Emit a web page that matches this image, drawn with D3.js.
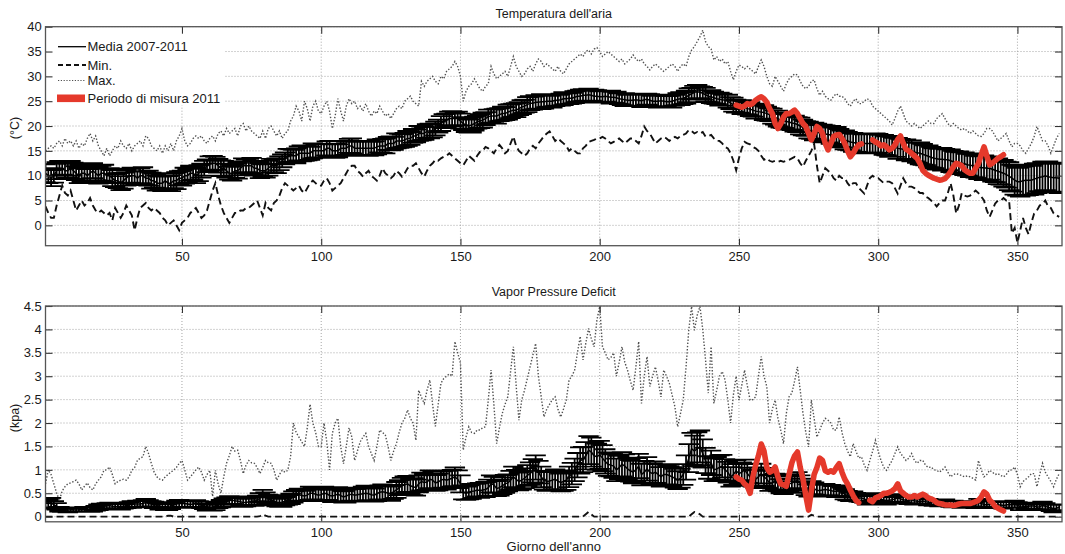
<!DOCTYPE html>
<html>
<head>
<meta charset="utf-8">
<script src="https://cdn.jsdelivr.net/npm/d3@7"></script>
<style>
  body { margin: 0; background: #fff; }
  svg { display: block; }
  text { font-family: "Liberation Sans", Arial, Helvetica, sans-serif; fill: #1a1a1a; }
</style>
</head>
<body>
<svg id="chart" width="1065" height="554"></svg>
<script>
// ---- Daily climatology 2007-2011, day 1..365 ----
// Air temperature (°C)
const tempMean = [
  10.5,10,9.5,10,11,11.5,11.5,11,11,11.5,
  11,10.5,10,10.5,10.5,10,10.5,11,10.5,10,
  10.5,10.5,10,10,9.5,9,9,8.5,9,9.5,
  10,10,10,9.5,10,10,9.5,9.5,9,9,
  8.5,8.5,8.5,9,8.5,8.5,9,9,9.5,9.5,
  10,10,10.5,10.5,10,10.5,11,11.5,12,12.5,
  12.5,12.5,12,11.5,11.5,11,10.5,10.5,11,11,
  11.5,12,12,12,12,11.5,11.5,11,11,11,
  11.5,12,12,12,12.5,13,13.5,14,14,14,
  14,14.5,14.5,14.5,14.5,14.5,15,15,15,15,
  15,15.5,15.5,15,15,15,15.5,15.5,15.5,16,
  16,15.5,15.5,15.5,15.5,15.5,15.5,15.5,15.5,15.8,
  16,16,16,16.5,16.5,16.5,17,17,17,17.2,
  17.5,17.5,18,18,18.5,18.5,18.5,19,19,19,
  19.5,20,20.5,21,21.2,21.5,21.5,21.5,21.5,21,
  20.5,20.2,20,20.2,20.5,20.8,21,21.2,21.5,21.9,
  22,22,22,22.3,22.5,22.5,22.8,23,23.2,23.2,
  23.5,23.8,24,24.3,24.6,24.6,24.8,24.8,24.9,24.9,
  25,25,25,25.2,25.2,25.3,25.5,25.5,25.6,25.6,
  25.8,26,26,26.2,26.2,26.3,26.2,26,26,25.9,
  25.9,26,25.9,25.8,25.8,25.7,25.5,25.4,25.3,25.2,
  25.2,25.2,25.3,25.2,25.1,25.3,25.4,25.2,25,25,
  25,25.1,25,24.9,24.9,25,25.2,25.4,25.5,25.6,
  25.8,26.2,26.5,26.8,26.9,26.8,26.6,26.3,26,25.9,
  25.7,25.5,25.4,25.3,25.2,25,24.6,24.3,24,23.9,
  23.8,23.7,23.5,23.4,23.2,23,22.9,22.8,22.7,22.5,
  22.3,22,21.7,21.5,21.2,21,20.9,20.8,20.6,20.5,
  20.3,20,19.7,19.5,19.2,19,18.9,18.8,18.6,18.5,
  18.4,18.3,18.2,18,17.9,17.6,17.4,17.2,17,16.8,
  16.7,16.6,16.5,16.5,16.5,16.5,16.5,16.5,16.5,16.5,
  16.4,16.2,16,15.9,15.8,15.7,15.5,15.4,15.3,15.2,
  15.1,15,14.8,14.6,14.5,14.3,14.1,13.9,13.7,13.5,
  13.4,13.3,13.3,13.2,13.2,13,12.8,12.7,12.6,12.5,
  12.4,12.2,12.1,12,11.8,11.7,11.6,11.6,11.5,11.5,
  11.3,11.1,10.9,10.7,10.5,10.2,9.9,9.5,9.1,8.8,
  8.8,9,9.1,9.1,9.1,9.3,9.5,9.7,9.8,10,
  9.8,9.7,9.6,9.6,9.5
];
const tempErr = [
  1.8,1.5,1.6,1.4,1.7,1.5,1.3,1.6,1.4,1.5,
  1.6,1.4,1.5,1.7,1.5,1.3,1.6,1.5,1.4,1.6,
  1.5,1.7,1.4,1.5,1.6,1.3,1.5,1.4,1.6,1.5,
  1.4,1.6,1.5,1.3,1.5,1.7,1.4,1.5,1.6,1.4,
  1.5,1.3,1.6,1.5,1.4,1.6,1.5,1.7,1.4,1.5,
  1.6,1.4,1.5,1.3,1.5,1.6,1.4,1.5,1.3,1.4,
  1.5,1.3,1.4,1.6,1.5,1.4,1.3,1.5,1.4,1.6,
  1.4,1.5,1.3,1.4,1.6,1.5,1.4,1.5,1.3,1.4,
  1.5,1.4,1.3,1.5,1.4,1.3,1.2,1.4,1.3,1.2,
  1.5,1.4,1.6,1.5,1.4,1.3,1.5,1.4,1.3,1.4,
  1.3,1.4,1.5,1.3,1.4,1.3,1.5,1.4,1.3,1.4,
  1.5,1.3,1.4,1.5,1.3,1.4,1.5,1.3,1.4,1.5,
  1.3,1.4,1.5,1.3,1.4,1.3,1.5,1.4,1.3,1.4,
  1.5,1.3,1.4,1.3,1.5,1.4,1.3,1.4,1.5,1.3,
  1.4,1.3,1.5,1.4,1.3,1.4,1.5,1.3,1.4,1.5,
  1.3,1.4,1.3,1.5,1.4,1.3,1.4,1.5,1.3,1.4,
  1.3,1.4,1.5,1.3,1.4,1.3,1.5,1.4,1.3,1.4,
  1.3,1.4,1.3,1.5,1.4,1.3,1.4,1.3,1.5,1.4,
  1.2,1.1,1.3,1.2,1.1,1.2,1.3,1.1,1.2,1.1,
  1.2,1.1,1.3,1.2,1.1,1.2,1.1,1.3,1.2,1.1,
  1.2,1.1,1.2,1.3,1.1,1.2,1.1,1.2,1.3,1.1,
  1.2,1.1,1.2,1.1,1.3,1.2,1.1,1.2,1.1,1.2,
  1.3,1.1,1.2,1.1,1.2,1.3,1.1,1.2,1.3,1.2,
  1.3,1.4,1.2,1.3,1.4,1.2,1.3,1.4,1.2,1.3,
  1.2,1.1,1.3,1.2,1.1,1.3,1.2,1.4,1.3,1.2,
  1.4,1.3,1.2,1.4,1.3,1.5,1.4,1.3,1.5,1.4,
  1.3,1.5,1.4,1.6,1.5,1.4,1.6,1.5,1.4,1.6,
  1.5,1.7,1.6,1.5,1.7,1.6,1.8,1.7,1.6,1.8,
  1.7,1.6,1.8,1.7,1.9,1.8,1.7,1.9,1.8,1.7,
  1.9,1.8,2,1.9,1.8,2,1.9,1.8,2,1.9,
  1.8,2,1.9,2.1,2,1.9,2.1,2,1.9,2.1,
  2,2.1,1.9,2,2.2,2.1,2,2.2,2.1,2,
  2.2,2.1,2.3,2.2,2.1,2.3,2.2,2.1,2.3,2.2,
  2.3,2.2,2.4,2.3,2.2,2.4,2.3,2.5,2.4,2.3,
  2.5,2.4,2.6,2.5,2.7,2.6,2.8,2.7,2.9,2.8,
  3,2.9,3.1,3,2.9,3.1,3,2.8,3,2.9,
  3.1,2.9,3,2.8,3
];
const tempMin = [
  3.8,2.5,1.5,1.5,4,6,8,6.5,6,7,
  5,3,4,5,4,4.5,5.5,4,3,2.5,
  3,2.5,2,2.5,1,3.5,2.5,1.5,2.5,4,
  3,2,-1,1.5,3.5,4,4.5,3.5,3,3.5,
  3,2.5,1.5,1,0,0.5,1,0,-1,0.5,
  1,1.5,2.5,3,3.5,2.5,1.5,2,3,5,
  7,8.5,6,4,2.5,1.5,0.5,1.5,2.5,2.5,
  3,3,3.5,3.5,4,4.5,5,3.5,2,4.5,
  3.5,3,4.5,5,6,7.5,8.5,8,7.5,7,
  7.5,8,7,6.5,7.5,8.5,9,8.5,8,8,
  9,9.5,8.5,7,7.5,8,8.5,9.5,10.5,11.5,
  12,12,11,10.5,9.8,10.5,11,10,9.5,9,
  10,11.5,10.5,10,9.5,10,11,10.5,9.8,10.5,
  11.5,12,12,12.5,11.5,10.5,9.8,11,12,12.5,
  13.2,13,13.5,13.8,14,14.5,14,13.5,13,12.5,
  12.1,13,14,13.5,13,14,14.8,15,15.8,15.5,
  15,14.5,15.5,16.2,15.5,14.5,15,16.5,17.9,16,
  15,14.5,14,14.5,15.5,16,15.5,16.5,17.2,18,
  18.5,18.9,18,17,17.5,17,16.5,16,15,15.5,
  15,14.5,14.5,15.5,16,16.8,17,17.2,17.5,17.5,
  17.8,17.5,17,16.5,16.8,17.2,17.5,17,16.5,17,
  17.5,17.5,17,16.5,18,19.9,19,18.5,17.5,16.5,
  17,17.5,17.8,17.5,17,17.5,17.8,17.5,18,18.2,
  18.5,19.2,19,18.5,18.8,18.5,18.8,17.9,18,18.2,
  17.5,17,17,16.5,15.8,15.5,14.5,13,11.1,13.5,
  15.5,16.8,16.5,16.3,15.8,15.5,15,14,13.2,13.5,
  13,12.8,13,12.8,13,12.8,13,13.2,13.5,13.8,
  13.5,12.5,11.8,13,14,15,16.4,12,8.5,10,
  11.5,11,10.5,9.5,9,10,9.5,9.5,8.5,7.8,
  8.5,8.5,7.5,7,6.4,8,9.5,10,9.5,9.5,
  9,8.5,8.8,8.8,8.5,7.5,6.4,8,9.5,8.5,
  7.8,7.8,7.5,7,6.5,6.5,5.8,5.5,5,4.5,
  3.8,4.5,5,5,6.5,8.5,6,2.4,4,6.5,
  6,5.8,6,6.5,7,6.5,5.8,5,3,1.7,
  3,4.4,5,5,5.5,5,5,-1.6,-0.5,-3.5,
  -1,1.5,-0.5,-1.8,0.5,2.4,3,4,4.4,5,
  3.8,3.5,2.4,2,1.7
];
const tempMax = [
  15,15.5,16,15.5,16.5,17,16,17.5,16.5,17,
  16,17,15.5,16.5,16,17.5,18.5,17,18,16,
  15,14,15.5,14,15,16,15.5,17,16,15.5,
  16.5,15,16,16.5,17,16,18,17.5,16,15.5,
  15,16,14.5,16,15,16.5,15,17,18,19.5,
  17,16,16.5,17.5,18,17.5,18,17,16.5,17.5,
  18,17,18.5,19,18,19.5,18.5,19,19.5,18,
  20,20.5,19,20,19,18.5,18,17.5,19,17.5,
  19.5,20,19,18,19,17.5,18.5,19,21,22,
  24,23,21,25,23.5,21,24,25,23,22.5,
  24,25,23,19.5,22,25.5,23,21,24,25.5,
  24.5,25,23.5,24,23,24.5,23,22,23,22.5,
  24,23,22,22.5,21.5,22.5,23.5,24,23.5,25,
  25.5,26,25,24.5,24,29,28,29,29.5,30,
  29,28.5,30,29.5,31,31.5,32,33,32,30,
  25,27,28,28.5,29.5,28.5,27.5,27,28,28.5,
  32,30.5,29.5,30,30.5,31,30,32,34,32,
  31,30,30.5,31.5,32,31,32.5,33.5,33,32,
  32.5,32,31.5,31,32,31,30.5,31.5,32.5,33,
  33.5,34,34.5,34,35,35.3,34.5,35.5,35.8,35,
  34,34.5,35,34.5,34,33.5,33,33.5,32.5,33,
  33.5,34.3,33.5,33,33.5,32.5,32,31.3,32,32.5,
  32,31.5,31,31.5,32,32.5,32,31,32,32.5,
  32,34,35.3,36,37,38,39.3,37,36,35.5,
  33.3,34,33,33.5,32.5,33,31,29.3,31,32.3,
  32,31.5,32,31.5,31,30.5,32,33.3,32,30,
  28.5,28,30,29,28,27,28.5,29.5,30,30.5,
  30.3,29,28,27.5,28,29,29.3,27.5,26.2,27,
  26,25.5,25.2,26,26.5,26,26,25.5,24.5,24,
  25,25.5,24.5,24.5,25,25.5,25.2,24,23.5,23,
  22.5,22,21.5,21,20.2,21.5,23,24,22.5,21,
  20.5,20,20.5,20,19.5,20,20.5,21,20.5,20.5,
  21.5,22,22.5,21.5,20.5,20,20.5,20,19.5,19.2,
  19.5,19,18.5,19,18.5,18,17.9,18.5,19.5,19.5,
  19,18,17,17.5,18,18.5,17,15.8,16.5,16.5,
  16,15,14.5,15.5,16.5,17.9,19.9,18.5,17,17,
  16,14.5,16,17.5,18.5
];

// Vapour pressure deficit (kPa)
const vpdMean = [
  0.3,0.28,0.3,0.25,0.22,0.16,0.15,0.15,0.14,0.15,
  0.15,0.14,0.15,0.15,0.16,0.15,0.15,0.16,0.18,0.2,
  0.22,0.22,0.23,0.24,0.22,0.21,0.22,0.21,0.22,0.24,
  0.25,0.26,0.27,0.27,0.27,0.28,0.3,0.28,0.27,0.25,
  0.25,0.22,0.21,0.21,0.22,0.23,0.25,0.27,0.28,0.28,
  0.28,0.27,0.26,0.27,0.28,0.27,0.25,0.22,0.2,0.19,
  0.2,0.22,0.25,0.28,0.3,0.33,0.35,0.35,0.34,0.33,
  0.32,0.3,0.3,0.32,0.33,0.32,0.35,0.4,0.45,0.42,
  0.38,0.35,0.33,0.3,0.3,0.31,0.33,0.36,0.38,0.42,
  0.45,0.47,0.45,0.44,0.46,0.5,0.5,0.48,0.46,0.47,
  0.5,0.49,0.45,0.44,0.46,0.48,0.45,0.42,0.44,0.47,
  0.48,0.46,0.47,0.48,0.49,0.5,0.49,0.47,0.46,0.49,
  0.52,0.53,0.52,0.5,0.5,0.53,0.57,0.62,0.66,0.68,
  0.7,0.66,0.64,0.62,0.7,0.75,0.73,0.74,0.8,0.78,
  0.72,0.74,0.78,0.8,0.78,0.8,0.82,0.85,0.8,0.7,
  0.52,0.5,0.52,0.54,0.55,0.57,0.56,0.57,0.58,0.62,
  0.7,0.68,0.6,0.62,0.66,0.7,0.72,0.78,0.85,0.8,
  0.75,0.78,0.82,0.88,0.92,0.98,1.05,0.95,0.85,0.78,
  0.75,0.76,0.78,0.8,0.76,0.73,0.75,0.78,0.85,0.92,
  1,1.1,1.2,1.22,1.3,1.42,1.38,1.3,1.28,1.32,
  1.25,1.18,1.12,1.1,1.08,1,1.05,1.12,1.08,1.02,
  0.98,0.95,1,1.08,0.9,0.95,1.02,0.95,0.92,0.95,
  0.9,0.85,0.9,0.9,0.88,0.85,0.82,0.78,0.82,0.9,
  1.05,1.25,1.45,1.4,1.45,1.5,1.35,1.2,1.05,1.15,
  1,1.02,1.05,1.08,1,0.95,0.85,0.9,0.98,0.92,
  0.95,1,0.92,0.85,0.82,0.8,0.85,0.92,0.85,0.8,
  0.72,0.72,0.75,0.7,0.65,0.62,0.66,0.7,0.72,0.75,
  0.78,0.72,0.66,0.6,0.56,0.62,0.6,0.56,0.56,0.57,
  0.58,0.57,0.56,0.54,0.54,0.56,0.52,0.48,0.45,0.42,
  0.44,0.42,0.4,0.4,0.38,0.35,0.37,0.4,0.42,0.4,
  0.37,0.35,0.34,0.35,0.36,0.38,0.4,0.38,0.36,0.35,
  0.35,0.36,0.34,0.33,0.33,0.33,0.32,0.31,0.31,0.3,
  0.3,0.29,0.29,0.3,0.28,0.27,0.27,0.27,0.27,0.26,
  0.26,0.26,0.25,0.25,0.25,0.3,0.28,0.26,0.26,0.27,
  0.26,0.25,0.25,0.25,0.24,0.25,0.26,0.26,0.27,0.25,
  0.2,0.21,0.22,0.22,0.23,0.23,0.2,0.21,0.24,0.22,
  0.2,0.19,0.17,0.18,0.2
];
const vpdErr = [
  0.1,0.09,0.1,0.08,0.07,0.05,0.05,0.04,0.05,0.04,
  0.05,0.04,0.05,0.04,0.05,0.04,0.05,0.05,0.05,0.06,
  0.06,0.05,0.06,0.06,0.05,0.06,0.05,0.06,0.05,0.06,
  0.06,0.07,0.06,0.07,0.06,0.07,0.08,0.07,0.06,0.07,
  0.06,0.07,0.06,0.07,0.08,0.07,0.06,0.07,0.08,0.07,
  0.07,0.06,0.07,0.08,0.07,0.06,0.07,0.06,0.07,0.06,
  0.07,0.08,0.07,0.08,0.09,0.08,0.09,0.08,0.09,0.08,
  0.08,0.09,0.08,0.09,0.1,0.09,0.1,0.1,0.12,0.1,
  0.09,0.1,0.09,0.08,0.09,0.1,0.09,0.1,0.11,0.12,
  0.12,0.13,0.12,0.11,0.12,0.14,0.13,0.12,0.13,0.14,
  0.14,0.13,0.12,0.13,0.14,0.15,0.13,0.12,0.14,0.15,
  0.14,0.13,0.15,0.14,0.15,0.16,0.14,0.15,0.14,0.16,
  0.15,0.16,0.15,0.14,0.16,0.15,0.17,0.16,0.17,0.18,
  0.17,0.16,0.18,0.17,0.18,0.19,0.18,0.17,0.19,0.18,
  0.17,0.18,0.19,0.18,0.2,0.19,0.18,0.2,0.19,0.18,
  0.15,0.14,0.15,0.16,0.15,0.14,0.16,0.15,0.16,0.17,
  0.18,0.17,0.16,0.17,0.18,0.19,0.18,0.2,0.22,0.2,
  0.19,0.2,0.21,0.22,0.24,0.25,0.26,0.24,0.22,0.2,
  0.2,0.19,0.2,0.21,0.2,0.19,0.2,0.21,0.22,0.23,
  0.24,0.26,0.28,0.27,0.29,0.3,0.31,0.29,0.28,0.3,
  0.28,0.26,0.25,0.24,0.25,0.24,0.25,0.26,0.25,0.24,
  0.23,0.24,0.25,0.26,0.23,0.24,0.25,0.23,0.22,0.23,
  0.22,0.21,0.22,0.21,0.2,0.21,0.2,0.19,0.2,0.22,
  0.26,0.3,0.34,0.33,0.35,0.34,0.3,0.27,0.24,0.26,
  0.24,0.25,0.26,0.24,0.23,0.22,0.21,0.22,0.23,0.22,
  0.21,0.22,0.2,0.19,0.18,0.19,0.2,0.21,0.19,0.18,
  0.17,0.16,0.17,0.16,0.15,0.14,0.15,0.16,0.17,0.16,
  0.17,0.16,0.15,0.14,0.13,0.14,0.13,0.12,0.13,0.12,
  0.12,0.11,0.12,0.11,0.12,0.11,0.1,0.11,0.1,0.09,
  0.1,0.09,0.08,0.09,0.08,0.09,0.08,0.09,0.08,0.09,
  0.08,0.09,0.08,0.07,0.08,0.09,0.08,0.07,0.08,0.07,
  0.08,0.07,0.08,0.07,0.06,0.07,0.06,0.07,0.06,0.07,
  0.06,0.07,0.06,0.07,0.06,0.06,0.07,0.06,0.06,0.07,
  0.06,0.07,0.06,0.06,0.07,0.08,0.07,0.06,0.07,0.06,
  0.06,0.07,0.06,0.06,0.07,0.06,0.07,0.06,0.07,0.06,
  0.06,0.07,0.06,0.07,0.06,0.07,0.06,0.07,0.08,0.07,
  0.06,0.07,0.08,0.07,0.06
];
const vpdMin = [
  0,0,0,0,0,0,0,0,0,0,
  0,0,0,0,0,0,0,0,0,0,
  0,0,0,0,0,0,0,0,0,0,
  0,0,0,0,0,0,0,0,0,0,
  0,0,0,0,0.02,0.02,0,0,0,0,
  0,0,0,0,0,0,0,0,0,0,
  0,0,0,0,0,0,0,0,0,0,
  0,0,0,0,0,0,0,0.01,0.05,0.02,
  0,0,0,0,0,0,0,0,0,0,
  0,0,0,0,0,0,0,0,0,0,
  0,0,0,0,0,0,0,0,0,0,
  0,0,0,0,0,0,0,0,0,0,
  0,0,0,0,0,0,0,0,0,0,
  0,0,0,0,0,0,0,0,0,0,
  0,0,0,0,0,0,0,0,0,0,
  0,0,0,0,0,0,0,0,0,0,
  0,0,0,0,0,0,0,0,0,0,
  0,0,0,0,0,0,0,0,0,0,
  0,0,0,0,0,0,0,0,0,0,
  0,0,0,0,0.05,0.1,0.05,0,0,0,
  0,0,0,0,0,0,0,0,0,0,
  0,0,0,0,0,0,0,0,0,0,
  0,0,0,0,0,0,0,0,0,0,
  0,0,0.05,0.1,0.08,0.05,0,0,0,0,
  0,0,0,0,0,0,0,0,0,0,
  0,0,0,0,0,0,0,0,0,0,
  0,0,0,0,0,0,0,0,0,0,
  0,0,0,0,0,0.04,0.02,0,0,0,
  0,0,0,0,0,0,0,0,0,0,
  0,0,0,0,0,0,0,0,0,0,
  0,0,0,0,0,0,0,0,0,0,
  0,0,0,0,0,0,0,0,0,0,
  0,0,0,0,0,0,0,0,0,0,
  0,0,0,0,0,0,0,0,0,0,
  0,0,0,0,0,0,0,0,0,0,
  0,0,0,0,0,0,0,0,0,0,
  0,0,0,0,0
];
const vpdMax = [
  0.7,1,0.9,0.7,0.5,0.35,0.55,0.64,0.7,0.72,
  0.75,0.78,0.7,0.57,0.65,0.72,0.62,0.57,0.7,0.78,
  0.85,0.99,1,1.06,0.9,0.7,0.75,0.78,0.8,0.78,
  0.85,0.99,1.05,1.2,1.25,1.28,1.5,1.35,1.14,0.95,
  0.85,0.8,0.78,0.85,0.9,0.95,0.99,1.05,1.14,1.2,
  1,0.78,0.85,0.92,1,1.06,0.95,0.78,0.9,0.99,
  0.43,0.99,0.7,0.5,0.85,1.14,1.3,1.5,1.4,1.42,
  1.2,0.92,1.1,1.2,1.15,1.14,1.05,0.92,1.05,1.2,
  1.15,1.14,1,0.78,0.9,0.99,0.95,0.99,1.28,2,
  1.8,1.7,1.6,1.5,1.9,2.4,2,1.8,1.5,1.5,
  2,1.6,1,1.78,2,2.1,1.5,1.13,1.5,1.9,
  1.7,1.2,1.4,1.6,1.7,1.78,1.5,1.35,1.2,1.5,
  1.85,1.8,1.75,1.5,1.2,1.4,1.56,1.8,2,2.1,
  2.28,2.1,2,1.63,2.7,2.55,2.42,2.7,2.92,2.4,
  1.93,2.4,2.85,2.95,3,3.05,3,3.74,3.5,3.28,
  1.42,1.7,1.92,1.8,1.78,1.85,1.85,1.9,1.92,2.5,
  3.13,2.4,1.56,1.9,2.2,2.4,2.56,3.1,3.63,2.8,
  2.06,2.49,2.7,2.95,3.2,3.45,3.7,3,2.56,2.13,
  2.3,2.4,2.5,2.56,2.3,2.13,2.3,2.49,2.92,3,
  3.13,3.5,3.85,3.35,3.7,4.02,3.8,3.63,4.2,4.49,
  3.63,3.5,3.35,3.4,3.5,3,3.3,3.63,3.3,3.13,
  2.9,2.7,3.2,3.74,2.42,3,3.42,2.78,3,3.2,
  2.9,2.56,3.13,3,2.85,2.6,2.35,1.92,2.2,2.49,
  3.2,4,4.49,3.98,4.3,4.49,4,3.35,2.64,3.63,
  2.42,2.7,3,3.1,2.92,2.5,2,2.6,3,2.49,
  2.8,3.13,2.8,2.49,2.5,2.56,3,3.42,3,2.78,
  2,2.3,2.49,2.1,1.85,1.56,2.2,2.56,2.64,2.9,
  3.2,2.7,2.2,1.8,1.49,2.49,2.1,1.7,1.85,2,
  2.1,2.06,2,1.85,1.85,2.13,1.8,1.56,1.4,1.28,
  1.56,1.4,1.25,1.28,1.1,0.99,1.2,1.4,1.63,1.4,
  1.2,1.05,0.99,1.1,1.2,1.35,1.49,1.35,1.28,1.2,
  1.25,1.35,1.2,1.14,1.2,1.2,1.1,1.05,1.06,1,
  0.99,0.95,1,1.06,0.95,0.85,0.9,0.92,0.9,0.88,
  0.85,0.87,0.85,0.82,0.78,1.2,1,0.85,0.9,0.99,
  0.95,0.9,0.92,0.88,0.85,0.9,0.99,1,1.06,0.9,
  0.64,0.75,0.8,0.85,0.92,0.92,0.64,0.9,1.14,0.95,
  0.85,0.75,0.64,0.8,0.92
];

// ---- 2011 measurement period, days 249..345 (null = no data) ----
const periodStart = 249;
const periodTemp = [
  24.2,24,23.8,24,24.5,24.3,24.6,25.2,25.6,25.9,
  25.5,24.8,23.5,22.5,20.5,19.5,20.5,21.8,22.5,22.5,
  22.8,23.2,22.5,21.5,20.5,19.9,18.5,17.2,18.5,19.9,
  19.5,18.5,16.5,15.2,16.5,17.9,18.2,18.3,17.5,16.5,
  15,13.8,14.5,15.5,16.2,16.4,null,null,null,17.2,
  16.8,16.5,16,16.2,15.8,15.2,15.5,16.2,17.3,18,
  16.5,15.3,15,14.5,14,13.5,12.5,11.1,10.5,10.1,
  9.8,9.5,9.3,9.1,9.2,9.4,10,10.8,11.8,12.5,
  12.3,12,11.2,10.8,10.5,10.5,11.5,12.5,14.2,15.8,
  14,12.2,12.5,13,13.5,13.8,14.2
];
const periodVpd = [
  0.85,0.8,0.78,0.7,0.65,0.5,0.85,1.1,1.3,1.55,
  1.4,1.05,0.95,0.98,1.06,0.85,0.7,0.68,0.65,0.9,
  1.15,1.3,1.38,1.05,0.8,0.45,0.14,0.55,0.9,1.05,
  1.25,1.2,0.98,0.95,0.98,0.95,1.05,1.13,0.95,0.8,
  0.7,0.57,0.45,0.35,0.3,null,null,null,0.35,0.32,
  0.4,0.42,0.45,0.5,0.5,0.52,0.55,0.6,0.7,0.55,
  0.5,0.45,0.42,0.42,0.45,0.42,0.45,0.48,0.45,0.4,
  0.38,0.35,0.3,0.28,0.27,0.25,0.25,0.25,0.24,0.25,
  0.27,0.28,0.28,0.28,0.28,0.3,0.32,0.35,0.42,0.53,
  0.48,0.35,0.3,0.22,0.18,0.15,0.12
];

// ---- Axis ticks and labels ----
const dayTicks = [50, 100, 150, 200, 250, 300, 350];
const tempTicks = [0, 5, 10, 15, 20, 25, 30, 35, 40];
const vpdTicks = [0, 0.5, 1, 1.5, 2, 2.5, 3, 3.5, 4, 4.5];
const legendLabels = ["Media 2007-2011", "Min.", "Max.", "Periodo di misura 2011"];

// ---- Drawing ----
const svg = d3.select("#chart");
svg.append("rect").attr("width", 1065).attr("height", 554).attr("fill", "#fff");

const x = d3.scaleLinear().domain([1, 366]).range([45.5, 1062]);
const CAP = 3.65;           // half width of error-bar caps, in days
const RED = "#e5392b";
const MAX_STYLE = { stroke: "#505050", width: 1.4, dash: "1.4,1.8" };
const MIN_STYLE = { stroke: "#111", width: 1.9, dash: "7,4" };

function drawPanel(o) {
  const y = d3.scaleLinear().domain(o.domain).range([o.bottom, o.top]);
  const x0 = x.range()[0], x1 = x.range()[1];
  const g = svg.append("g");

  svg.append("clipPath").attr("id", "clip-" + o.key)
    .append("rect").attr("x", x0).attr("y", o.top)
    .attr("width", x1 - x0).attr("height", o.bottom - o.top);

  // dotted grid
  const grid = g.append("g").attr("stroke", "#9c9c9c").attr("stroke-width", 0.9)
    .attr("stroke-dasharray", "1,2");
  grid.selectAll("line.gx").data(dayTicks).join("line").attr("class", "gx")
    .attr("x1", d => x(d)).attr("x2", d => x(d)).attr("y1", o.top).attr("y2", o.bottom);
  grid.selectAll("line.gy").data(o.ticks).join("line").attr("class", "gy")
    .attr("x1", x0).attr("x2", x1).attr("y1", d => y(d)).attr("y2", d => y(d));

  const plot = g.append("g").attr("clip-path", `url(#clip-${o.key})`);
  const line = d3.line().x((d, i) => x(i + 1)).y(d => y(d));

  // maximum: dotted
  plot.append("path").attr("d", line(o.max)).attr("fill", "none")
    .attr("stroke", MAX_STYLE.stroke).attr("stroke-width", MAX_STYLE.width)
    .attr("stroke-dasharray", MAX_STYLE.dash);
  // minimum: dashed
  plot.append("path").attr("d", line(o.min)).attr("fill", "none")
    .attr("stroke", MIN_STYLE.stroke).attr("stroke-width", MIN_STYLE.width)
    .attr("stroke-dasharray", MIN_STYLE.dash);

  // mean with error bars
  const p = d3.path();
  o.mean.forEach((m, i) => {
    const d = i + 1, e = o.err[i];
    const yl = y(m - e), yh = y(m + e);
    p.moveTo(x(d), yl); p.lineTo(x(d), yh);
    p.moveTo(x(d - CAP), yl); p.lineTo(x(d + CAP), yl);
    p.moveTo(x(d - CAP), yh); p.lineTo(x(d + CAP), yh);
  });
  plot.append("path").attr("d", p.toString()).attr("fill", "none")
    .attr("stroke", "#000").attr("stroke-width", 1.8);
  plot.append("path").attr("d", line(o.mean)).attr("fill", "none")
    .attr("stroke", "#000").attr("stroke-width", 1.5);

  // 2011 measurement period
  const redLine = d3.line().defined(d => d != null)
    .x((d, i) => x(periodStart + i)).y(d => y(d));
  plot.append("path").attr("d", redLine(o.period)).attr("fill", "none")
    .attr("stroke", RED).attr("stroke-width", 5.6)
    .attr("stroke-linejoin", "round").attr("stroke-linecap", "round");

  if (o.legend) o.legend(g);

  // axes: ticks point inward on all four sides
  const axColor = "#333";
  const bottomAx = g.append("g").attr("transform", `translate(0,${o.bottom})`)
    .call(d3.axisBottom(x).tickValues(dayTicks).tickSize(-7).tickPadding(6).tickFormat(d3.format("d")));
  const topAx = g.append("g").attr("transform", `translate(0,${o.top})`)
    .call(d3.axisTop(x).tickValues(dayTicks).tickSize(-7).tickFormat(""));
  const leftAx = g.append("g").attr("transform", `translate(${x0},0)`)
    .call(d3.axisLeft(y).tickValues(o.ticks).tickSize(-7).tickPadding(3.8).tickFormat(d3.format("")));
  const rightAx = g.append("g").attr("transform", `translate(${x1},0)`)
    .call(d3.axisRight(y).tickValues(o.ticks).tickSize(-7).tickFormat(""));
  [bottomAx, topAx, leftAx, rightAx].forEach(a => {
    a.select(".domain").remove();
    a.selectAll(".tick line").attr("stroke", axColor).attr("stroke-width", 1.1);
    a.selectAll("text").attr("font-size", 13).attr("fill", "#1a1a1a")
      .attr("font-family", '"Liberation Sans", Arial, sans-serif');
  });
  g.append("rect").attr("x", x0).attr("y", o.top).attr("width", x1 - x0)
    .attr("height", o.bottom - o.top).attr("fill", "none")
    .attr("stroke", "#555").attr("stroke-width", 1.3);

  // title and y label
  g.append("text").attr("x", (x0 + x1) / 2).attr("y", o.titleY)
    .attr("text-anchor", "middle").attr("font-size", 12.5).text(o.title);
  g.append("text").attr("transform", `translate(19,${o.ylabelY}) rotate(-90)`)
    .attr("text-anchor", "middle").attr("font-size", 12.5).text(o.ylabel);
}

function tempLegend(g) {
  const lg = g.append("g");
  lg.append("rect").attr("x", 46.5).attr("y", 27.5).attr("width", 178).attr("height", 78)
    .attr("fill", "#fff");
  const rows = [46.7, 65, 80.5, 98.3];
  const x1 = 58, x2 = 86, tx = 87.5;
  lg.append("line").attr("x1", x1).attr("x2", x2).attr("y1", rows[0]).attr("y2", rows[0])
    .attr("stroke", "#000").attr("stroke-width", 1.3);
  lg.append("line").attr("x1", x1).attr("x2", x2).attr("y1", rows[1]).attr("y2", rows[1])
    .attr("stroke", MIN_STYLE.stroke).attr("stroke-width", MIN_STYLE.width)
    .attr("stroke-dasharray", "5,3");
  lg.append("line").attr("x1", x1).attr("x2", x2).attr("y1", rows[2]).attr("y2", rows[2])
    .attr("stroke", MAX_STYLE.stroke).attr("stroke-width", 1.1).attr("stroke-dasharray", "1.2,1.6");
  lg.append("rect").attr("x", 57).attr("y", rows[3] - 3.8).attr("width", 28).attr("height", 7.6)
    .attr("fill", RED);
  lg.selectAll("text").data(legendLabels).join("text")
    .attr("x", tx).attr("y", (d, i) => rows[i] + 4.6)
    .attr("font-size", 13).text(d => d);
}

drawPanel({
  key: "temp", top: 26.7, bottom: 245.7, domain: [-4.1, 40], ticks: tempTicks,
  mean: tempMean, err: tempErr, min: tempMin, max: tempMax, period: periodTemp,
  title: "Temperatura dell'aria", titleY: 17.5, ylabel: "(°C)", ylabelY: 128,
  legend: tempLegend
});
drawPanel({
  key: "vpd", top: 306, bottom: 521.8, domain: [-0.11, 4.5], ticks: vpdTicks,
  mean: vpdMean, err: vpdErr, min: vpdMin, max: vpdMax, period: periodVpd,
  title: "Vapor Pressure Deficit", titleY: 296, ylabel: "(kpa)", ylabelY: 418
});

svg.append("text").attr("x", (x.range()[0] + x.range()[1]) / 2).attr("y", 551)
  .attr("text-anchor", "middle").attr("font-size", 13).text("Giorno dell'anno");
</script>
</body>
</html>
